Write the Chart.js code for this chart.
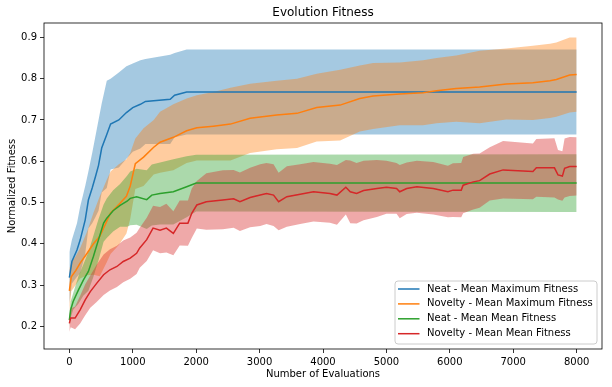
<!DOCTYPE html>
<html>
<head>
<meta charset="utf-8">
<script src="https://cdn.jsdelivr.net/npm/chart.js@4.4.0/dist/chart.umd.min.js"></script>
<style>
  html, body { margin: 0; padding: 0; background: #fff; }
  #chart { display: block; }
</style>
</head>
<body>
<canvas id="chart" width="612" height="387"></canvas>
<script>
// ======= DATA =======
const chartTitle = "Evolution Fitness";
const xTitle = "Number of Evaluations";
const yTitle = "Normalized Fitness";
const xTicks = [0, 1000, 2000, 3000, 4000, 5000, 6000, 7000, 8000];
const yTicks = [0.2, 0.3, 0.4, 0.5, 0.6, 0.7, 0.8, 0.9];

// Neat - Mean Maximum Fitness (mean, mean +/- std)
const neatMaxEvals = [0, 40, 120, 170, 250, 300, 360, 410, 460, 510, 590, 650, 780, 900, 1000, 1120, 1200, 1590, 1660, 1850, 2000, 2500, 8000];
const neatMaxMean  = [0.318, 0.357, 0.385, 0.409, 0.458, 0.506, 0.535, 0.562, 0.59, 0.632, 0.665, 0.69, 0.70, 0.718, 0.73, 0.738, 0.745, 0.75, 0.76, 0.768, 0.768, 0.768, 0.768];
const neatMaxUpper = [0.38, 0.41, 0.45, 0.49, 0.54, 0.575, 0.62, 0.66, 0.70, 0.74, 0.795, 0.80, 0.815, 0.83, 0.837, 0.845, 0.848, 0.858, 0.862, 0.871, 0.871, 0.871, 0.871];
const neatMaxLower = [0.256, 0.304, 0.32, 0.328, 0.376, 0.437, 0.45, 0.464, 0.48, 0.524, 0.535, 0.58, 0.585, 0.606, 0.623, 0.631, 0.642, 0.642, 0.658, 0.665, 0.665, 0.665, 0.665];

// Novelty - Mean Maximum Fitness
const novMaxEvals = [0, 30, 100, 170, 280, 380, 480, 590, 650, 780, 900, 960, 1040, 1170, 1330, 1430, 1640, 1850, 2010, 2270, 2540, 2850, 3270, 3590, 3900, 4270, 4580, 4790, 5210, 5580, 5790, 6100, 6470, 6890, 7310, 7580, 7680, 7890, 8000];
const novMaxMean  = [0.286, 0.32, 0.335, 0.353, 0.377, 0.40, 0.418, 0.455, 0.475, 0.495, 0.515, 0.54, 0.594, 0.61, 0.634, 0.646, 0.658, 0.674, 0.681, 0.685, 0.69, 0.704, 0.712, 0.716, 0.73, 0.736, 0.752, 0.758, 0.763, 0.766, 0.771, 0.776, 0.78, 0.787, 0.79, 0.795, 0.798, 0.809, 0.81];
const novMaxUpper = [0.34, 0.355, 0.37, 0.39, 0.43, 0.475, 0.515, 0.555, 0.575, 0.593, 0.605, 0.62, 0.655, 0.68, 0.70, 0.72, 0.738, 0.752, 0.76, 0.768, 0.778, 0.788, 0.795, 0.80, 0.812, 0.822, 0.832, 0.838, 0.839, 0.845, 0.85, 0.856, 0.868, 0.873, 0.88, 0.885, 0.888, 0.9, 0.9];
const novMaxLower = [0.232, 0.285, 0.30, 0.316, 0.324, 0.325, 0.321, 0.355, 0.375, 0.397, 0.425, 0.46, 0.533, 0.54, 0.568, 0.572, 0.578, 0.596, 0.602, 0.602, 0.602, 0.62, 0.629, 0.632, 0.648, 0.65, 0.672, 0.678, 0.687, 0.687, 0.692, 0.696, 0.692, 0.701, 0.70, 0.705, 0.708, 0.718, 0.72];

// Neat - Mean Mean Fitness
const neatMeanEvals = [0, 20, 60, 140, 220, 300, 380, 460, 540, 590, 690, 800, 910, 960, 1060, 1220, 1300, 1430, 1640, 1850, 2000, 8000];
const neatMeanMean  = [0.215, 0.24, 0.26, 0.287, 0.312, 0.333, 0.37, 0.41, 0.45, 0.462, 0.48, 0.493, 0.503, 0.51, 0.514, 0.507, 0.518, 0.522, 0.526, 0.538, 0.547, 0.547];
const neatMeanUpper = [0.23, 0.26, 0.28, 0.32, 0.35, 0.38, 0.42, 0.46, 0.495, 0.51, 0.53, 0.545, 0.565, 0.575, 0.582, 0.578, 0.592, 0.597, 0.605, 0.612, 0.616, 0.617];
const neatMeanLower = [0.20, 0.22, 0.24, 0.254, 0.274, 0.286, 0.32, 0.36, 0.405, 0.414, 0.43, 0.441, 0.441, 0.445, 0.446, 0.436, 0.444, 0.447, 0.447, 0.464, 0.478, 0.477];

// Novelty - Mean Mean Fitness
const novMeanEvals = [0, 20, 90, 170, 250, 330, 430, 540, 640, 750, 850, 960, 1060, 1110, 1220, 1320, 1430, 1530, 1640, 1740, 1870, 1930, 2010, 2160, 2420, 2590, 2690, 2850, 3010, 3110, 3220, 3300, 3430, 3640, 3850, 4110, 4220, 4360, 4430, 4530, 4640, 4850, 5000, 5160, 5210, 5320, 5480, 5740, 5970, 6050, 6180, 6210, 6370, 6470, 6630, 6840, 7310, 7365, 7650, 7706, 7775, 7810, 7890, 8000];
const novMeanMean  = [0.207, 0.22, 0.22, 0.24, 0.264, 0.284, 0.304, 0.325, 0.337, 0.345, 0.357, 0.365, 0.377, 0.39, 0.41, 0.438, 0.433, 0.438, 0.425, 0.45, 0.45, 0.474, 0.494, 0.502, 0.506, 0.509, 0.502, 0.512, 0.518, 0.522, 0.518, 0.502, 0.514, 0.52, 0.526, 0.522, 0.518, 0.537, 0.526, 0.522, 0.529, 0.534, 0.537, 0.534, 0.526, 0.534, 0.538, 0.534, 0.526, 0.53, 0.53, 0.542, 0.55, 0.553, 0.569, 0.579, 0.575, 0.584, 0.584, 0.567, 0.564, 0.583, 0.587, 0.587];
const novMeanUpper = [0.227, 0.243, 0.248, 0.274, 0.302, 0.323, 0.349, 0.374, 0.387, 0.395, 0.408, 0.415, 0.427, 0.439, 0.463, 0.492, 0.489, 0.497, 0.479, 0.505, 0.505, 0.534, 0.552, 0.571, 0.578, 0.579, 0.573, 0.584, 0.593, 0.596, 0.593, 0.572, 0.588, 0.593, 0.598, 0.594, 0.591, 0.603, 0.602, 0.596, 0.601, 0.603, 0.601, 0.596, 0.591, 0.597, 0.601, 0.598, 0.589, 0.595, 0.596, 0.61, 0.618, 0.619, 0.634, 0.649, 0.643, 0.654, 0.656, 0.627, 0.624, 0.655, 0.659, 0.658];
const novMeanLower = [0.187, 0.198, 0.193, 0.207, 0.227, 0.245, 0.259, 0.276, 0.287, 0.295, 0.307, 0.315, 0.327, 0.342, 0.358, 0.384, 0.377, 0.379, 0.372, 0.396, 0.395, 0.414, 0.437, 0.434, 0.435, 0.439, 0.431, 0.44, 0.443, 0.448, 0.443, 0.433, 0.441, 0.448, 0.454, 0.451, 0.446, 0.471, 0.45, 0.449, 0.457, 0.465, 0.473, 0.473, 0.462, 0.472, 0.475, 0.471, 0.464, 0.465, 0.464, 0.474, 0.483, 0.487, 0.505, 0.51, 0.508, 0.514, 0.512, 0.507, 0.504, 0.512, 0.516, 0.517];

// series styling (matplotlib tab10)
const series = [
    { label: "Neat - Mean Maximum Fitness", color: "#1f77b4", band: "rgba(31,119,180,0.4)", x: neatMaxEvals, mean: neatMaxMean, upper: neatMaxUpper, lower: neatMaxLower },
    { label: "Novelty - Mean Maximum Fitness", color: "#ff7f0e", band: "rgba(255,127,14,0.4)", x: novMaxEvals, mean: novMaxMean, upper: novMaxUpper, lower: novMaxLower },
    { label: "Neat - Mean Mean Fitness", color: "#2ca02c", band: "rgba(44,160,44,0.4)", x: neatMeanEvals, mean: neatMeanMean, upper: neatMeanUpper, lower: neatMeanLower },
    { label: "Novelty - Mean Mean Fitness", color: "#d62728", band: "rgba(214,39,40,0.4)", x: novMeanEvals, mean: novMeanMean, upper: novMeanUpper, lower: novMeanLower }
];

const toPoints = (xs, ys) => xs.map((x, i) => ({ x: x, y: ys[i] }));

// bands first (higher order = drawn earlier), then lines on top
const datasets = [];
series.forEach((s, i) => {
    datasets.push({
        label: s.label + " upper",
        data: toPoints(s.x, s.upper),
        borderWidth: 0,
        borderColor: "rgba(0,0,0,0)",
        pointRadius: 0,
        fill: false,
        order: 20 - i
    });
    datasets.push({
        label: s.label + " lower",
        data: toPoints(s.x, s.lower),
        borderWidth: 0,
        borderColor: "rgba(0,0,0,0)",
        backgroundColor: s.band,
        pointRadius: 0,
        fill: "-1",
        order: 20 - i
    });
});
series.forEach((s, i) => {
    datasets.push({
        label: s.label,
        data: toPoints(s.x, s.mean),
        borderColor: s.color,
        borderWidth: 1.5,
        pointRadius: 0,
        tension: 0,
        fill: false,
        order: 10 - i
    });
});

// frame, title and matplotlib-like legend
const framePlugin = {
    id: "framePlugin",
    afterDraw(chart) {
        const { ctx, chartArea: a } = chart;
        ctx.save();
        ctx.strokeStyle = "#000";
        ctx.lineWidth = 0.8;
        ctx.strokeRect(a.left, a.top, a.right - a.left, a.bottom - a.top);

        ctx.fillStyle = "#000";
        ctx.font = '12px "DejaVu Sans"';
        ctx.textAlign = "center";
        ctx.textBaseline = "middle";
        ctx.fillText(chartTitle, (a.left + a.right) / 2, 13);

        // legend box, lower right
        const w = 202, h = 63;
        const bx = a.right - 5 - w, by = a.bottom - 5 - h;
        ctx.beginPath();
        if (ctx.roundRect) ctx.roundRect(bx, by, w, h, 3);
        else ctx.rect(bx, by, w, h);
        ctx.fillStyle = "rgba(255,255,255,0.8)";
        ctx.fill();
        ctx.strokeStyle = "#cccccc";
        ctx.lineWidth = 1;
        ctx.stroke();

        ctx.font = '10px "DejaVu Sans"';
        ctx.textAlign = "left";
        series.forEach((s, i) => {
            const y = by + 8 + i * 14.9;
            ctx.strokeStyle = s.color;
            ctx.lineWidth = 1.5;
            ctx.beginPath();
            ctx.moveTo(bx + 3, y);
            ctx.lineTo(bx + 24.5, y);
            ctx.stroke();
            ctx.fillStyle = "#000";
            ctx.fillText(s.label, bx + 32, y);
        });
        ctx.restore();
    }
};

const font = { family: '"DejaVu Sans", sans-serif', size: 10 };

new Chart(document.getElementById("chart"), {
    type: "line",
    data: { datasets: datasets },
    options: {
        responsive: false,
        devicePixelRatio: 1,
        animation: false,
        layout: { padding: { left: 0, right: 10, top: 23, bottom: 0 } },
        plugins: {
            legend: { display: false },
            tooltip: { enabled: false },
            title: { display: false }
        },
        scales: {
            x: {
                type: "linear",
                min: -400,
                max: 8400,
                afterBuildTicks: (s) => { s.ticks = xTicks.map(v => ({ value: v })); },
                afterFit: (s) => { s.height = 38; },
                ticks: { font: font, color: "#000", padding: 3, maxRotation: 0, autoSkip: false, callback: (v) => String(v) },
                grid: { drawOnChartArea: false, drawTicks: true, tickLength: 4, color: "#000", lineWidth: 0.8 },
                border: { display: false },
                title: { display: true, text: xTitle, font: font, color: "#000", padding: { top: 0, bottom: 7 } }
            },
            y: {
                type: "linear",
                min: 0.145,
                max: 0.935,
                afterBuildTicks: (s) => { s.ticks = yTicks.map(v => ({ value: v })); },
                afterFit: (s) => { s.width = 44; },
                ticks: { font: font, color: "#000", padding: 3, autoSkip: false, callback: (v) => v.toFixed(1) },
                grid: { drawOnChartArea: false, drawTicks: true, tickLength: 4, color: "#000", lineWidth: 0.8 },
                border: { display: false },
                title: { display: true, text: yTitle, font: font, color: "#000", padding: { top: 6, bottom: 0 } }
            }
        }
    },
    plugins: [framePlugin]
});
</script>
</body>
</html>
